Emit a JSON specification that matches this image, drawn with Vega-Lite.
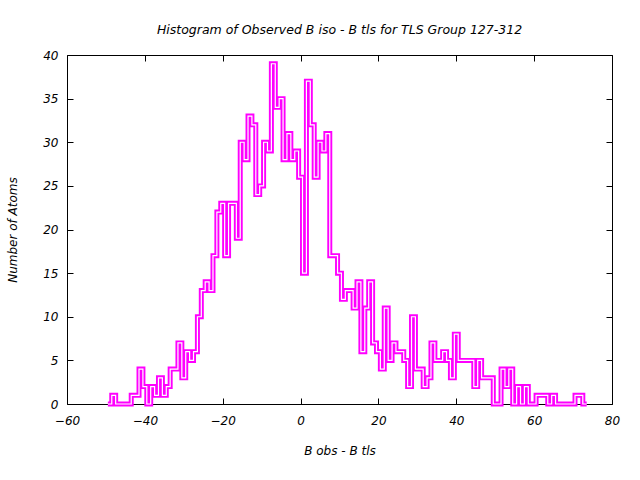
{
  "$schema": "https://vega.github.io/schema/vega-lite/v6.json",
  "width": 545,
  "height": 349,
  "autosize": {"type": "none"},
  "padding": {"left": 67, "top": 55, "right": 28, "bottom": 76},
  "background": "white",
  "title": {"text": "Histogram of Observed B iso  - B tls  for TLS Group 127-312", "font": "DejaVu Sans", "fontSize": 12.5, "fontStyle": "italic", "fontWeight": "normal", "color": "black", "anchor": "middle", "offset": 13},
  "config": {
    "view": {"stroke": "black", "strokeWidth": 1},
    "axis": {"grid": false, "domain": false, "tickColor": "black", "tickSize": -6, "tickWidth": 1, "labelFlush": false,
      "labelFont": "DejaVu Sans", "labelFontStyle": "italic", "labelFontSize": 12, "labelColor": "black",
      "titleFont": "DejaVu Sans", "titleFontStyle": "italic", "titleFontWeight": "normal", "titleFontSize": 12, "titleColor": "black"}
  },
  "data": {"values": [
    {"b": -49.5, "n": 0},
    {"b": -48.5, "n": 1}, {"b": -47.5, "n": 0}, {"b": -46.5, "n": 0}, {"b": -45.5, "n": 0}, {"b": -44.5, "n": 0},
    {"b": -43.5, "n": 1}, {"b": -42.5, "n": 1}, {"b": -41.5, "n": 4}, {"b": -40.5, "n": 2}, {"b": -39.5, "n": 0},
    {"b": -38.5, "n": 2}, {"b": -37.5, "n": 1}, {"b": -36.5, "n": 3}, {"b": -35.5, "n": 1}, {"b": -34.5, "n": 2},
    {"b": -33.5, "n": 4}, {"b": -32.5, "n": 4}, {"b": -31.5, "n": 7}, {"b": -30.5, "n": 3}, {"b": -29.5, "n": 6},
    {"b": -28.5, "n": 5}, {"b": -27.5, "n": 6}, {"b": -26.5, "n": 10}, {"b": -25.5, "n": 13}, {"b": -24.5, "n": 14},
    {"b": -23.5, "n": 13}, {"b": -22.5, "n": 17}, {"b": -21.5, "n": 22}, {"b": -20.5, "n": 23}, {"b": -19.5, "n": 17},
    {"b": -18.5, "n": 23}, {"b": -17.5, "n": 23}, {"b": -16.5, "n": 19}, {"b": -15.5, "n": 30}, {"b": -14.5, "n": 28},
    {"b": -13.5, "n": 33}, {"b": -12.5, "n": 32}, {"b": -11.5, "n": 24}, {"b": -10.5, "n": 25}, {"b": -9.5, "n": 30},
    {"b": -8.5, "n": 29}, {"b": -7.5, "n": 39}, {"b": -6.5, "n": 34}, {"b": -5.5, "n": 35}, {"b": -4.5, "n": 28},
    {"b": -3.5, "n": 31}, {"b": -2.5, "n": 28}, {"b": -1.5, "n": 29}, {"b": -0.5, "n": 26}, {"b": 0.5, "n": 15},
    {"b": 1.5, "n": 37}, {"b": 2.5, "n": 32}, {"b": 3.5, "n": 26}, {"b": 4.5, "n": 30}, {"b": 5.5, "n": 29},
    {"b": 6.5, "n": 31}, {"b": 7.5, "n": 17}, {"b": 8.5, "n": 17}, {"b": 9.5, "n": 15}, {"b": 10.5, "n": 12},
    {"b": 11.5, "n": 13}, {"b": 12.5, "n": 13}, {"b": 13.5, "n": 11}, {"b": 14.5, "n": 14}, {"b": 15.5, "n": 6},
    {"b": 16.5, "n": 11}, {"b": 17.5, "n": 14}, {"b": 18.5, "n": 7}, {"b": 19.5, "n": 6}, {"b": 20.5, "n": 4},
    {"b": 21.5, "n": 11}, {"b": 22.5, "n": 5}, {"b": 23.5, "n": 7}, {"b": 24.5, "n": 6}, {"b": 25.5, "n": 6},
    {"b": 26.5, "n": 5}, {"b": 27.5, "n": 2}, {"b": 28.5, "n": 10}, {"b": 29.5, "n": 4}, {"b": 30.5, "n": 4},
    {"b": 31.5, "n": 2}, {"b": 32.5, "n": 3}, {"b": 33.5, "n": 7}, {"b": 34.5, "n": 5}, {"b": 35.5, "n": 5},
    {"b": 36.5, "n": 6}, {"b": 37.5, "n": 5}, {"b": 38.5, "n": 3}, {"b": 39.5, "n": 8}, {"b": 40.5, "n": 5},
    {"b": 41.5, "n": 5}, {"b": 42.5, "n": 5}, {"b": 43.5, "n": 5}, {"b": 44.5, "n": 2}, {"b": 45.5, "n": 5},
    {"b": 46.5, "n": 3}, {"b": 47.5, "n": 3}, {"b": 48.5, "n": 3}, {"b": 49.5, "n": 0}, {"b": 50.5, "n": 0},
    {"b": 51.5, "n": 4}, {"b": 52.5, "n": 2}, {"b": 53.5, "n": 4}, {"b": 54.5, "n": 0}, {"b": 55.5, "n": 2},
    {"b": 56.5, "n": 0}, {"b": 57.5, "n": 2}, {"b": 58.5, "n": 0}, {"b": 59.5, "n": 0}, {"b": 60.5, "n": 1},
    {"b": 61.5, "n": 1}, {"b": 62.5, "n": 1}, {"b": 63.5, "n": 0}, {"b": 64.5, "n": 1}, {"b": 65.5, "n": 0},
    {"b": 66.5, "n": 0}, {"b": 67.5, "n": 0}, {"b": 68.5, "n": 0}, {"b": 69.5, "n": 0}, {"b": 70.5, "n": 1},
    {"b": 71.5, "n": 1}, {"b": 72.5, "n": 0},
    {"b": 73.5, "n": 0}
  ]},
  "layer": [
    {
      "mark": {"type": "line", "interpolate": "step-after", "color": "#ff00ff", "strokeWidth": 5, "strokeJoin": "miter", "strokeCap": "butt"},
      "encoding": {
        "x": {"field": "b", "type": "quantitative", "scale": {"domain": [-60, 80], "nice": false, "zero": false},
          "axis": {"values": [-60, -40, -20, 0, 20, 40, 60, 80], "title": "B obs  - B tls", "labelPadding": 17, "titlePadding": 19}},
        "y": {"field": "n", "type": "quantitative", "scale": {"domain": [0, 40], "nice": false},
          "axis": {"values": [0, 5, 10, 15, 20, 25, 30, 35, 40], "title": "Number of Atoms", "labelPadding": 15, "titlePadding": 23}}
      }
    },
    {
      "mark": {"type": "line", "interpolate": "step-after", "color": "white", "strokeWidth": 1.2, "strokeJoin": "miter", "strokeCap": "butt"},
      "encoding": {
        "x": {"field": "b", "type": "quantitative", "scale": {"domain": [-60, 80], "nice": false, "zero": false},
          "axis": {"orient": "top", "values": [-60, -40, -20, 0, 20, 40, 60, 80], "labels": false, "title": null}},
        "y": {"field": "n", "type": "quantitative", "scale": {"domain": [0, 40], "nice": false},
          "axis": {"orient": "right", "values": [0, 5, 10, 15, 20, 25, 30, 35, 40], "labels": false, "title": null}}
      }
    }
  ],
  "resolve": {"axis": {"x": "independent", "y": "independent"}}
}
